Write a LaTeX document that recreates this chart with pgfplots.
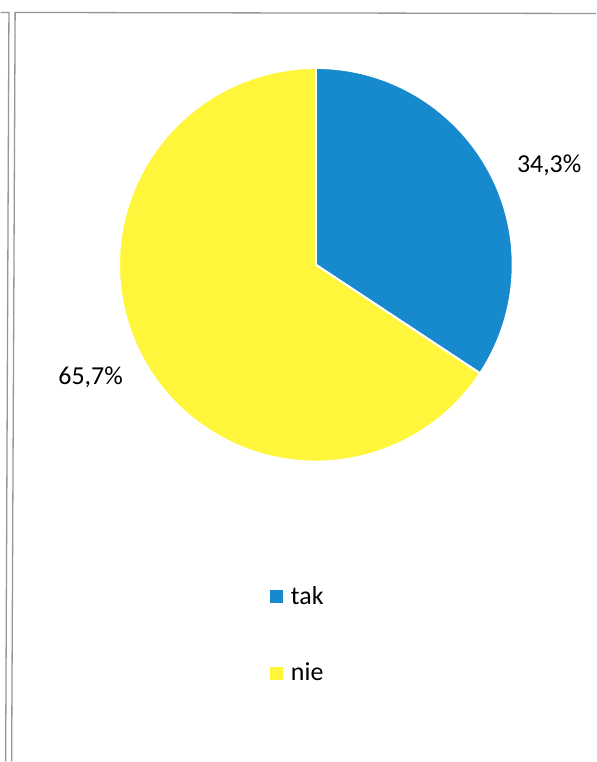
\documentclass[border=0pt]{standalone}
\usepackage{pgfplots}
\pgfplotsset{compat=1.18}
\usepackage{pgfplotstable}
\usepackage{fontspec}
\setmainfont{Carlito}

\definecolor{takblue}{RGB}{22,138,204}
\definecolor{nieyellow}{RGB}{255,246,60}
\definecolor{framegray}{RGB}{150,150,150}

% answer shares in percent
\pgfplotstableread{
label value
tak   34.3
nie   65.7
}\piedata

\pgfplotstablegetelem{0}{value}\of\piedata
\let\takval\pgfplotsretval

\begin{document}
\begin{tikzpicture}
\pgfmathsetmacro{\splitangle}{90-3.6*\takval}
\begin{axis}[
    width=596bp, height=762bp,
    scale only axis,
    xmin=0, xmax=596, ymin=0, ymax=762,
    hide axis,
    clip=false,
    legend style={
        at={(axis cs:269,177)}, anchor=north west,
        draw=none, fill=none,
        font=\fontsize{26}{30}\selectfont,
        row sep=53bp,
        inner sep=0pt,
    },
    legend cell align=left,
    legend image code/.code={\fill[#1] (0bp,-6bp) rectangle (12bp,6bp); \path (19bp,0bp);},
]
% page size
\path (axis cs:0,0) (axis cs:596,762);

% scanned frame
\draw[framegray, line width=1.3bp] (axis cs:0,749.5) -- (axis cs:8.3,749.5) -- (axis cs:5,0);
\draw[framegray, line width=1.3bp] (axis cs:11,0) -- (axis cs:14.5,749.5) -- (axis cs:596,748.5);

% slices
\fill[takblue, draw=white, line width=2bp]
    (axis cs:315.5,497) -- ++(90:197bp)
    arc[start angle=90, end angle=\splitangle, radius=197bp] -- cycle;
\fill[nieyellow, draw=white, line width=2bp]
    (axis cs:315.5,497) -- ++(\splitangle:197bp)
    arc[start angle=\splitangle, end angle=-270, radius=197bp] -- cycle;

% data labels
\node[font=\fontsize{26}{30}\selectfont] at (axis cs:549,597) {34,3\%};
\node[font=\fontsize{26}{30}\selectfont] at (axis cs:90,384) {65,7\%};

\addlegendimage{takblue}
\addlegendentry{tak}
\addlegendimage{nieyellow}
\addlegendentry{nie}
\end{axis}
\end{tikzpicture}
\end{document}
